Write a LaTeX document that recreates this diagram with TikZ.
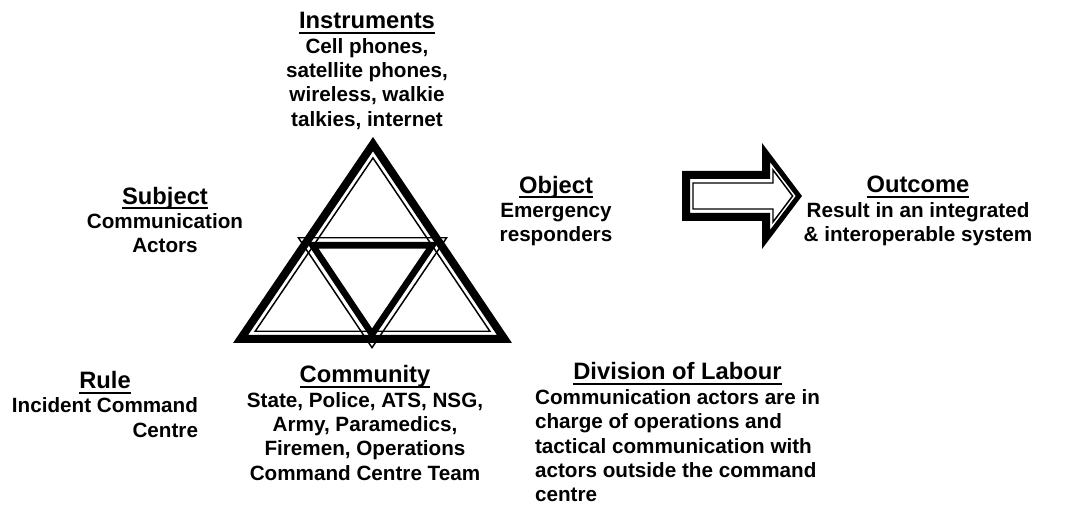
\documentclass[tikz,border=0pt]{standalone}
\usepackage{fontspec}
\setmainfont{Liberation Sans}
\tikzset{lbl/.style={font=\fontsize{15.5}{18.3}\selectfont\bfseries, inner sep=0pt, align=center}}
% heading, a little larger, with a heavy underline
\newcommand\uhead[1]{\mbox{\fontsize{17.8}{18.3}\selectfont\setbox0=\hbox{#1}\rlap{\rule[-3.8pt]{\wd0}{1.4pt}}\box0}}
% the two triangles
\newcommand\bigtri{(233,343) -- (512,343) -- (373,137) -- cycle}
\newcommand\midtri{(297,237) -- (448,237) -- (372,349) -- cycle}

\begin{document}
\begin{tikzpicture}[x=0.75pt,y=-0.75pt,line join=miter]
\useasboundingbox (0,0) rectangle (1068,506);

% big triangle, thick rim outside, thin line inside
\draw[line width=6pt, scale around={0.9459:(372.8,269)}] \bigtri;
\draw[line width=1.1pt, scale around={0.8412:(372.8,269)}] \bigtri;
% inverted triangle, thin line outside, thick rim inside
\draw[line width=1.1pt, scale around={0.9813:(372.2,277.2)}] \midtri;
\draw[line width=4.9pt, scale around={0.7945:(372.2,277.2)}] \midtri;

% block arrow
\fill[even odd rule] (682,171) -- (762,171) -- (762,143) -- (802,196) -- (762,249) -- (762,221) -- (682,221) -- cycle
      (690,179) -- (770,179) -- (770,162) -- (795.7,196) -- (770,230) -- (770,213) -- (690,213) -- cycle;
\draw[line width=1.1pt] (693,183) -- (773,183) -- (773,170) -- (792.6,196) -- (773,222) -- (773,209) -- (693,209) -- cycle;

\node[lbl] (instr) at (367,71) {\uhead{Instruments}\\Cell phones,\\satellite phones,\\wireless, walkie\\talkies, internet};
\node[lbl] (subj) at (165,220) {\uhead{Subject}\\Communication\\Actors};
\node[lbl] (obj) at (556,211) {\uhead{Object}\\Emergency\\responders};
\node[lbl] (outc) at (918,211) {\uhead{Outcome}\\Result in an integrated\\\& interoperable system};
\node[lbl] (rule) at (105,408) {\begin{tabular}{@{}r@{}}\multicolumn{1}{@{}c@{}}{\uhead{Rule}}\\Incident Command\\Centre\end{tabular}};
\node[lbl] (comm) at (365,423) {\uhead{Community}\\State, Police, ATS, NSG,\\Army, Paramedics,\\Firemen, Operations\\Command Centre Team};
\node[lbl] (div) at (677.5,436) {\begin{tabular}{@{}l@{}}\multicolumn{1}{@{}c@{}}{\uhead{Division of Labour}}\\Communication actors are in\\charge of operations and\\tactical communication with\\actors outside the command\\centre\end{tabular}};
\end{tikzpicture}
\end{document}
